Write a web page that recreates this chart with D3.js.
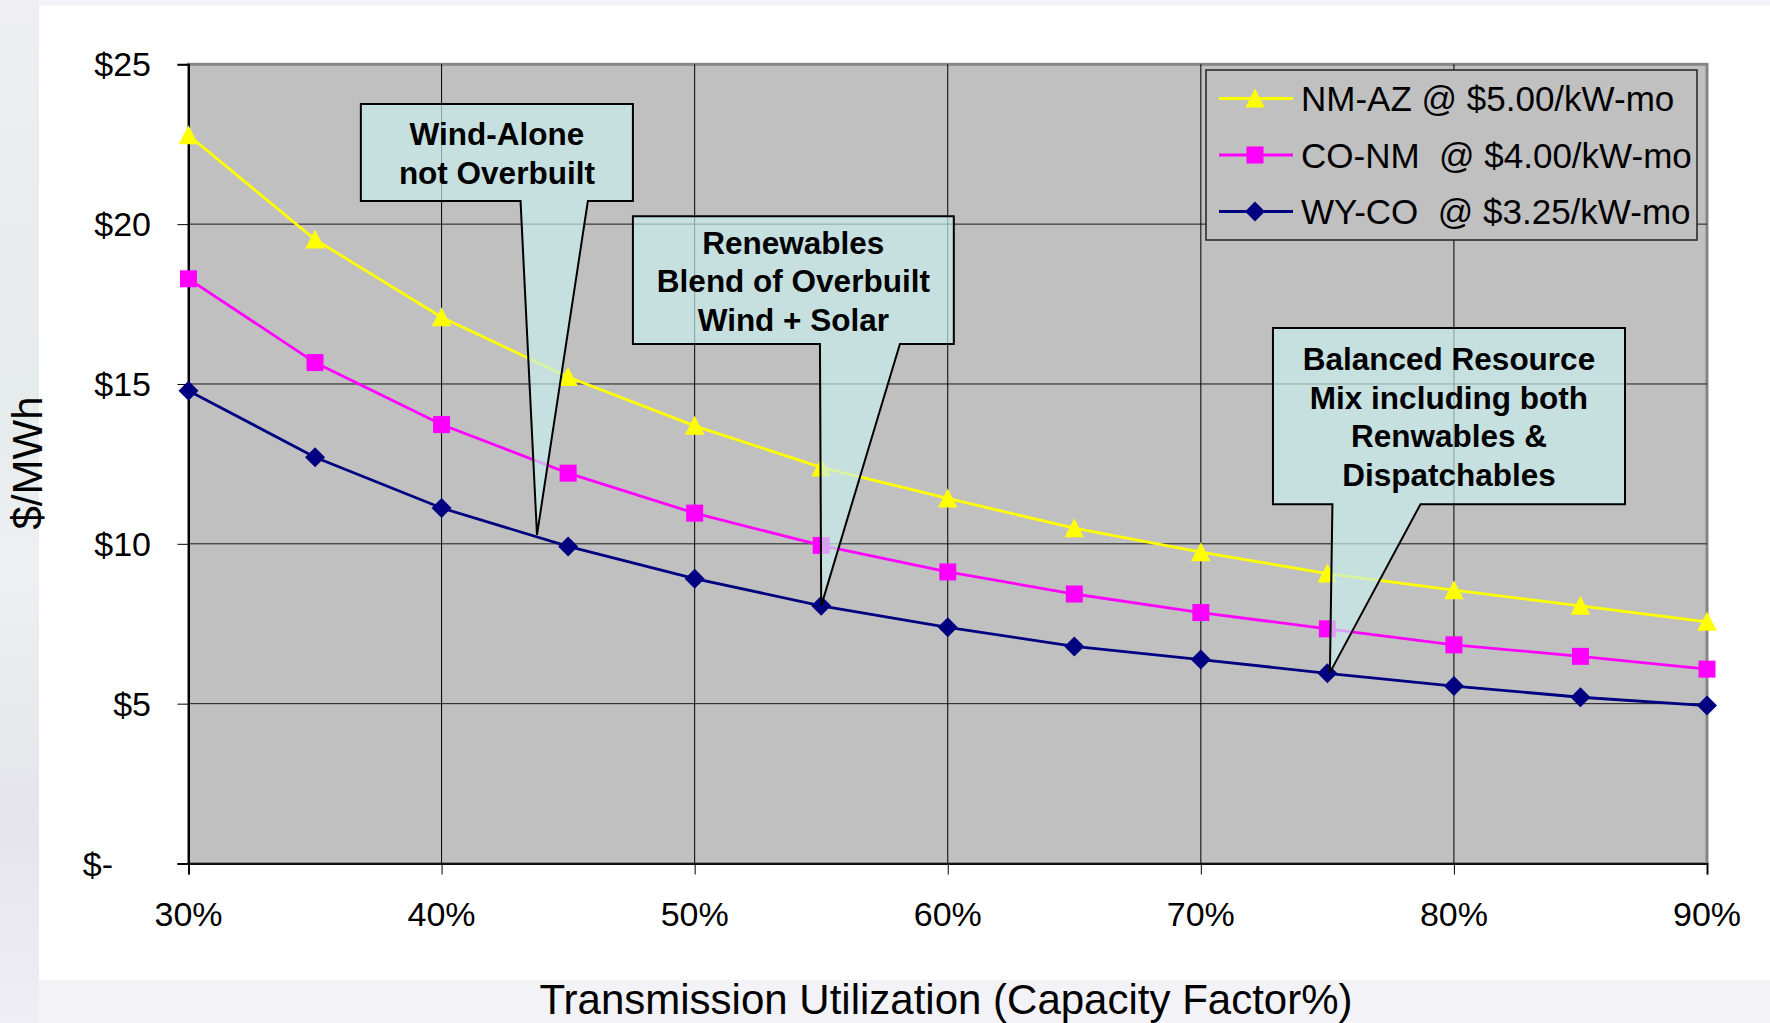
<!DOCTYPE html>
<html>
<head>
<meta charset="utf-8">
<script src="https://cdn.jsdelivr.net/npm/d3@7"></script>
<style>
  html, body { margin: 0; padding: 0; background: #f2f2f7; }
  svg { display: block; }
  text { font-family: "Liberation Sans", Arial, sans-serif; }
</style>
</head>
<body>
<svg id="chart" width="1770" height="1023"></svg>
<script>
// ---------- DATA ----------
const categories = [30, 35, 40, 45, 50, 55, 60, 65, 70, 75, 80, 85, 90];
const seriesNames = ["NM-AZ @ $5.00/kW-mo", "CO-NM  @ $4.00/kW-mo", "WY-CO  @ $3.25/kW-mo"];
const nmAz = [22.78, 19.52, 17.09, 15.22, 13.69, 12.39, 11.42, 10.49, 9.74, 9.07, 8.55, 8.06, 7.56];
const coNm = [18.29, 15.67, 13.73, 12.21, 10.96, 9.95, 9.12, 8.43, 7.85, 7.34, 6.84, 6.48, 6.08];
const wyCo = [14.79, 12.71, 11.12, 9.92, 8.91, 8.06, 7.39, 6.79, 6.38, 5.95, 5.55, 5.20, 4.94];
const yTickValues = [0, 5, 10, 15, 20, 25];
const yTickLabels = ["$-", "$5", "$10", "$15", "$20", "$25"];
const xTickValues = [30, 40, 50, 60, 70, 80, 90];
const xTickLabels = ["30%", "40%", "50%", "60%", "70%", "80%", "90%"];
const xTitle = "Transmission Utilization (Capacity Factor%)";
const yTitle = "$/MWh";
// callouts, in data coordinates (capacity factor %, $/MWh)
const calloutTexts = [
  ["Wind-Alone", "not Overbuilt"],
  ["Renewables", "Blend of Overbuilt", "Wind + Solar"],
  ["Balanced Resource", "Mix including both", "Renwables &", "Dispatchables"]
];
const calloutBoxes = [
  {x0: 36.81, x1: 47.56, y0: 23.76, y1: 20.72, b0: 43.12, b1: 45.78, tx: 43.77, ty: 10.28},
  {x0: 47.56, x1: 60.24, y0: 20.25, y1: 16.25, b0: 54.95, b1: 58.11, tx: 55.0, ty: 8.06},
  {x0: 72.85, x1: 86.76, y0: 16.75, y1: 11.24, b0: 75.2, b1: 78.68, tx: 75.1, ty: 5.97}
];

// ---------- LAYOUT ----------
const svg = d3.select("#chart");
const W = 1770, H = 1023;
const plot = {left: 188.5, right: 1707, top: 64.3, bottom: 863.5};

const x = d3.scaleLinear().domain([30, 90]).range([plot.left, plot.right]);
const y = d3.scaleLinear().domain([0, 25]).range([plot.bottom, plot.top]);

// background
const defs = svg.append("defs");
const lg = defs.append("linearGradient").attr("id", "leftbg").attr("x1", 0).attr("y1", 0).attr("x2", 0).attr("y2", 1);
lg.append("stop").attr("offset", "0%").attr("stop-color", "#eeeef3");
lg.append("stop").attr("offset", "40%").attr("stop-color", "#e6ebec");
lg.append("stop").attr("offset", "55%").attr("stop-color", "#eef0f2");
lg.append("stop").attr("offset", "80%").attr("stop-color", "#e4e4ea");
lg.append("stop").attr("offset", "100%").attr("stop-color", "#eeeef4");
svg.append("rect").attr("width", W).attr("height", H).attr("fill", "#f2f2f7");
svg.append("rect").attr("x", 0).attr("y", 0).attr("width", 39).attr("height", H).attr("fill", "url(#leftbg)");
// white panel
svg.append("rect").attr("x", 39).attr("y", 5.6).attr("width", W - 39).attr("height", 974.4).attr("fill", "#ffffff");

// plot area
svg.append("rect")
  .attr("x", plot.left).attr("y", plot.top)
  .attr("width", plot.right - plot.left).attr("height", plot.bottom - plot.top)
  .attr("fill", "#c0c0c0").attr("stroke", "#868686").attr("stroke-width", 3);

// gridlines
const grid = svg.append("g");
grid.selectAll("line.h").data(yTickValues.filter(v => v > 0 && v < 25)).join("line")
  .attr("x1", plot.left).attr("x2", plot.right)
  .attr("y1", d => y(d)).attr("y2", d => y(d))
  .attr("stroke", "#1a1a1a").attr("stroke-width", 1);
grid.selectAll("line.v").data(xTickValues.filter(v => v > 30 && v < 90)).join("line")
  .attr("y1", plot.top).attr("y2", plot.bottom)
  .attr("x1", d => x(d)).attr("x2", d => x(d))
  .attr("stroke", "#000").attr("stroke-width", 1);

// axes
const yAxis = d3.axisLeft(y).tickValues(yTickValues).tickSize(11).tickFormat("");
const gy = svg.append("g").attr("transform", `translate(${plot.left},0)`).call(yAxis);
gy.select(".domain").attr("stroke", "#000").attr("stroke-width", 2);
gy.selectAll(".tick line").attr("stroke", "#000").attr("stroke-width", 1);

const xAxis = d3.axisBottom(x).tickValues(xTickValues).tickSize(11).tickFormat("");
const gx = svg.append("g").attr("transform", `translate(0,${plot.bottom})`).call(xAxis);
gx.select(".domain").attr("stroke", "#111").attr("stroke-width", 2);
gx.selectAll(".tick line").attr("stroke", "#000").attr("stroke-width", 1);

// tick labels
svg.append("g").selectAll("text").data(yTickValues).join("text")
  .attr("x", (d, i) => yTickLabels[i] === "$-" ? 113 : 151)
  .attr("y", d => y(d) + 12)
  .attr("text-anchor", "end")
  .attr("font-size", 34)
  .attr("fill", "#000")
  .text((d, i) => yTickLabels[i]);

svg.append("g").selectAll("text").data(xTickValues).join("text")
  .attr("x", d => x(d))
  .attr("y", 926)
  .attr("text-anchor", "middle")
  .attr("font-size", 34)
  .attr("fill", "#000")
  .text((d, i) => xTickLabels[i]);

// axis titles
svg.append("text").attr("x", 946).attr("y", 1014).attr("text-anchor", "middle")
  .attr("font-size", 42).attr("fill", "#000").text(xTitle);
svg.append("text").attr("transform", "translate(42,463) rotate(-90)").attr("text-anchor", "middle")
  .attr("font-size", 42).attr("fill", "#000").text(yTitle);

// series
const series = [
  {name: seriesNames[0], values: nmAz, color: "#ffff00", symbol: "triangle"},
  {name: seriesNames[1], values: coNm, color: "#ff00ff", symbol: "square"},
  {name: seriesNames[2], values: wyCo, color: "#000080", symbol: "diamond"}
];
function markerPath(kind) {
  if (kind === "triangle") {
    const s = 19.5, h = 18;
    return `M0,${-h / 2 - 1}L${s / 2},${h / 2}L${-s / 2},${h / 2}Z`;
  }
  if (kind === "square") return d3.symbol(d3.symbolSquare, 289)();
  const r = 10;
  return `M0,${-r}L${r},0L0,${r}L${-r},0Z`;
}
const line = d3.line().x(d => x(d[0])).y(d => y(d[1]));
const sg = svg.append("g");
series.slice().reverse().forEach(s => {
  const pts = categories.map((c, i) => [c, s.values[i]]);
  sg.append("path").datum(pts).attr("d", line)
    .attr("fill", "none").attr("stroke", s.color).attr("stroke-width", 2.8);
  sg.append("g").selectAll("path").data(pts).join("path")
    .attr("transform", d => `translate(${x(d[0])},${y(d[1])})`)
    .attr("d", markerPath(s.symbol))
    .attr("fill", s.color);
});

// callouts
const cg = svg.append("g");
calloutBoxes.forEach((b, k) => {
  const X0 = x(b.x0), X1 = x(b.x1), Y0 = y(b.y0), Y1 = y(b.y1);
  const B0 = x(b.b0), B1 = x(b.b1), TX = x(b.tx), TY = y(b.ty);
  const p = d3.path();
  p.moveTo(X0, Y0); p.lineTo(X1, Y0); p.lineTo(X1, Y1); p.lineTo(B1, Y1);
  p.lineTo(TX, TY); p.lineTo(B0, Y1); p.lineTo(X0, Y1); p.closePath();
  cg.append("path").attr("d", p.toString())
    .attr("fill", "rgb(200,238,238)").attr("fill-opacity", 0.68)
    .attr("stroke", "#000").attr("stroke-width", 2).attr("stroke-linejoin", "miter");
  const lines = calloutTexts[k];
  const cx = (X0 + X1) / 2;
  const lh = 38.5;
  const firstBaseline = (Y0 + Y1) / 2 - (lines.length - 1) * lh / 2 + 12;
  cg.append("g").selectAll("text").data(lines).join("text")
    .attr("x", cx).attr("y", (d, i) => firstBaseline + i * lh)
    .attr("text-anchor", "middle").attr("font-size", 31.5).attr("font-weight", "bold")
    .attr("fill", "#000").text(d => d);
});

// legend
const leg = svg.append("g");
leg.append("rect").attr("x", 1206).attr("y", 70).attr("width", 491).attr("height", 170)
  .attr("fill", "#c0c0c0").attr("stroke", "#222").attr("stroke-width", 1.5);
series.forEach((s, i) => {
  const ly = 98.5 + i * 56.5;
  leg.append("line").attr("x1", 1219).attr("x2", 1293).attr("y1", ly).attr("y2", ly)
    .attr("stroke", s.color).attr("stroke-width", 2.8);
  leg.append("path").attr("transform", `translate(1255,${ly})`).attr("d", markerPath(s.symbol)).attr("fill", s.color);
  leg.append("text").attr("x", 1301).attr("y", ly + 12.5).attr("font-size", 35)
    .attr("fill", "#000").attr("xml:space", "preserve").style("white-space", "pre").text(s.name);
});
</script>
</body>
</html>
